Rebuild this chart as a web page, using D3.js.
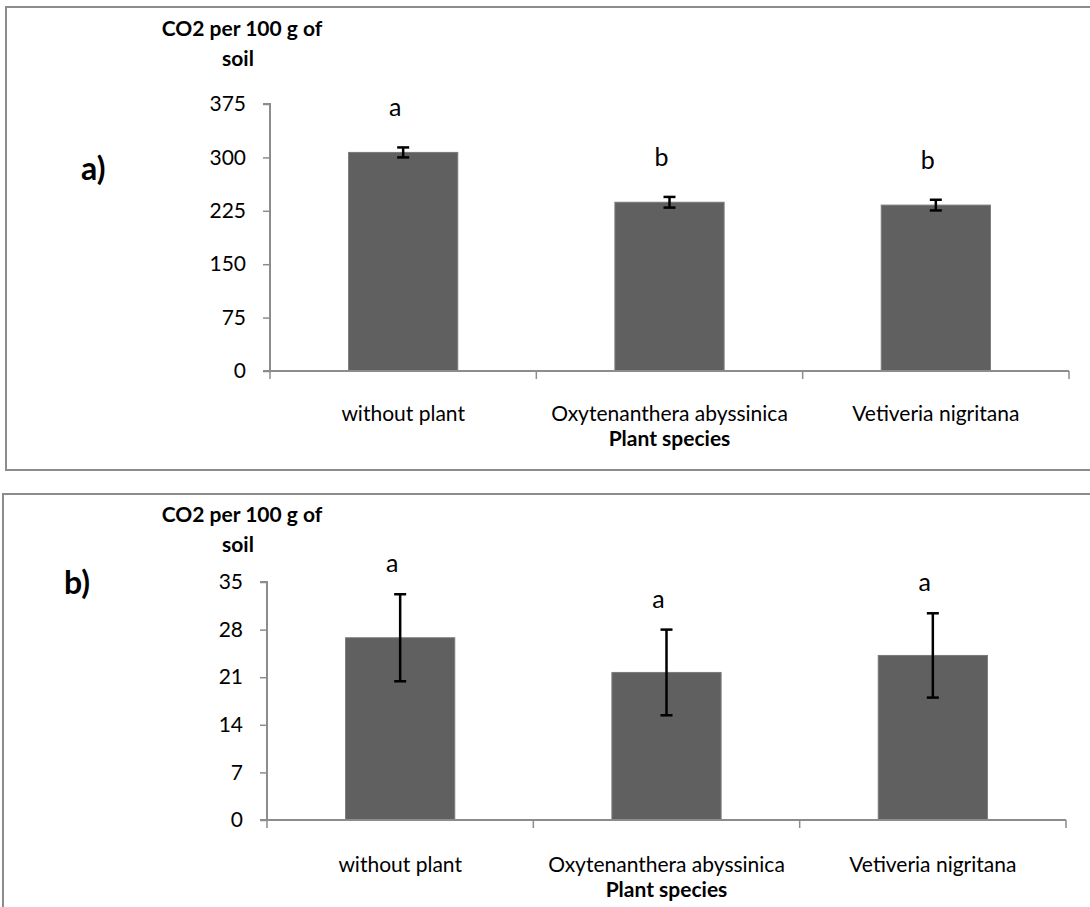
<!DOCTYPE html>
<html>
<head>
<meta charset="utf-8">
<script src="https://cdn.jsdelivr.net/npm/d3@7"></script>
<style>
  body { margin: 0; background: #fff; }
  text { font-family: Lato, "Open Sans", sans-serif; fill: #000; }
</style>
</head>
<body>
<div id="chart"></div>
<script>
var categories = ["without plant", "Oxytenanthera abyssinica", "Vetiveria nigritana"];

// panel a) values, error bars and letters
var co2A = [307, 237, 233];
var errA = [7, 7.5, 7.5];
var lettersA = ["a", "b", "b"];
var ticksA = [0, 75, 150, 225, 300, 375];

// panel b)
var co2B = [26.8, 21.7, 24.2];
var errB = [6.4, 6.3, 6.2];
var lettersB = ["a", "a", "a"];
var ticksB = [0, 7, 14, 21, 28, 35];

var svg = d3.select("#chart")
    .append("svg")
    .attr("width", 1090)
    .attr("height", 907);

function renderPanel(opt)
{
    var g = svg.append("g");

    //outer frame
    g.append("rect")
        .attr("x", opt.frame[0])
        .attr("y", opt.frame[1])
        .attr("width", opt.frame[2])
        .attr("height", opt.frame[3])
        .attr("fill", "none")
        .attr("stroke", "#8c8c8c")
        .attr("stroke-width", 2);

    var x = d3.scaleBand()
        .domain(categories)
        .range([opt.left, opt.right])
        .paddingInner(0.59)
        .paddingOuter(0.295);

    var y = d3.scaleLinear()
        .domain([0, d3.max(opt.ticks)])
        .range([opt.bottom, opt.top]);

    //bars
    g.selectAll("rect.bar")
        .data(opt.values)
        .enter()
        .append("rect")
        .attr("class", "bar")
        .attr("x", function(d, i) { return x(categories[i]); })
        .attr("width", x.bandwidth())
        .attr("y", function(d) { return y(d); })
        .attr("height", function(d) { return y(0) - y(d); })
        .attr("fill", "#606060")
        .attr("stroke", "#7a7a7a")
        .attr("stroke-width", 1);

    //y axis
    var yAxis = g.append("g")
        .attr("transform", "translate(" + opt.left + ",0)")
        .call(d3.axisLeft(y).tickValues(opt.ticks).tickSize(7).tickPadding(17).tickFormat(d3.format("d")));
    yAxis.select(".domain").attr("stroke", "#8c8c8c").attr("stroke-width", 2).attr("d", "M-7," + y(d3.max(opt.ticks)) + "H0V" + y(0));
    yAxis.selectAll(".tick line").attr("stroke", "#8c8c8c").attr("stroke-width", 1.5);
    yAxis.selectAll(".tick text").style("font-size", "21px").attr("fill", "#000");

    //x axis line and boundary ticks
    var step = x.step();
    g.append("line")
        .attr("x1", opt.left - 7).attr("x2", opt.right)
        .attr("y1", y(0)).attr("y2", y(0))
        .attr("stroke", "#8c8c8c").attr("stroke-width", 2);
    g.selectAll("line.xtick")
        .data(d3.range(categories.length + 1))
        .enter()
        .append("line")
        .attr("class", "xtick")
        .attr("x1", function(d) { return opt.left + d * step; })
        .attr("x2", function(d) { return opt.left + d * step; })
        .attr("y1", y(0)).attr("y2", y(0) + 8)
        .attr("stroke", "#8c8c8c").attr("stroke-width", 1.5);

    g.selectAll("text.xlab")
        .data(categories)
        .enter()
        .append("text")
        .attr("class", "xlab")
        .attr("x", function(d) { return x(d) + x.bandwidth() / 2; })
        .attr("y", y(0) + opt.xlabGap)
        .attr("text-anchor", "middle")
        .style("font-size", "21px")
        .text(function(d) { return d; });

    g.append("text")
        .attr("x", x(categories[1]) + x.bandwidth() / 2)
        .attr("y", y(0) + opt.xlabGap + 25)
        .attr("text-anchor", "middle")
        .style("font-size", "21px")
        .style("font-weight", "bold")
        .text("Plant species");

    //error bars
    var eb = g.selectAll("g.err")
        .data(opt.values)
        .enter()
        .append("g")
        .attr("class", "err")
        .attr("stroke", "#000")
        .attr("stroke-width", 2.5);
    eb.append("line")
        .attr("x1", function(d, i) { return x(categories[i]) + x.bandwidth() / 2; })
        .attr("x2", function(d, i) { return x(categories[i]) + x.bandwidth() / 2; })
        .attr("y1", function(d, i) { return y(d + opt.errs[i]); })
        .attr("y2", function(d, i) { return y(d - opt.errs[i]); });
    [1, -1].forEach(function(s) {
        eb.append("line")
            .attr("x1", function(d, i) { return x(categories[i]) + x.bandwidth() / 2 - 6; })
            .attr("x2", function(d, i) { return x(categories[i]) + x.bandwidth() / 2 + 6; })
            .attr("y1", function(d, i) { return y(d + s * opt.errs[i]); })
            .attr("y2", function(d, i) { return y(d + s * opt.errs[i]); });
    });

    //significance letters
    g.selectAll("text.letter")
        .data(opt.letters)
        .enter()
        .append("text")
        .attr("class", "letter")
        .attr("x", function(d, i) { return x(categories[i]) + x.bandwidth() / 2 - 8; })
        .attr("y", function(d, i) { return y(opt.values[i] + opt.errs[i]) - opt.letterGap; })
        .attr("text-anchor", "middle")
        .style("font-size", "25px")
        .text(function(d) { return d; });

    //y title
    var t = g.append("text")
        .attr("text-anchor", "middle")
        .style("font-size", "21px")
        .style("font-weight", "bold");
    t.append("tspan").attr("x", 242).attr("y", opt.titleY).text("CO2 per 100 g of");
    t.append("tspan").attr("x", 238).attr("y", opt.titleY + 30).text("soil");

    //panel label
    g.append("text")
        .attr("x", opt.label[0])
        .attr("y", opt.label[1])
        .style("font-size", "32px")
        .style("font-weight", "bold")
        .text(opt.name);
}

renderPanel({
    name: "a)", values: co2A, errs: errA, letters: lettersA, ticks: ticksA,
    frame: [6, 7, 1100, 463], left: 270, right: 1069, top: 104, bottom: 371,
    xlabGap: 50, letterGap: 31, titleY: 36, label: [81, 180]
});

renderPanel({
    name: "b)", values: co2B, errs: errB, letters: lettersB, ticks: ticksB,
    frame: [3, 494, 1100, 430], left: 267, right: 1066, top: 582, bottom: 820,
    xlabGap: 52, letterGap: 22, titleY: 522, label: [64, 594]
});
</script>
</body>
</html>
